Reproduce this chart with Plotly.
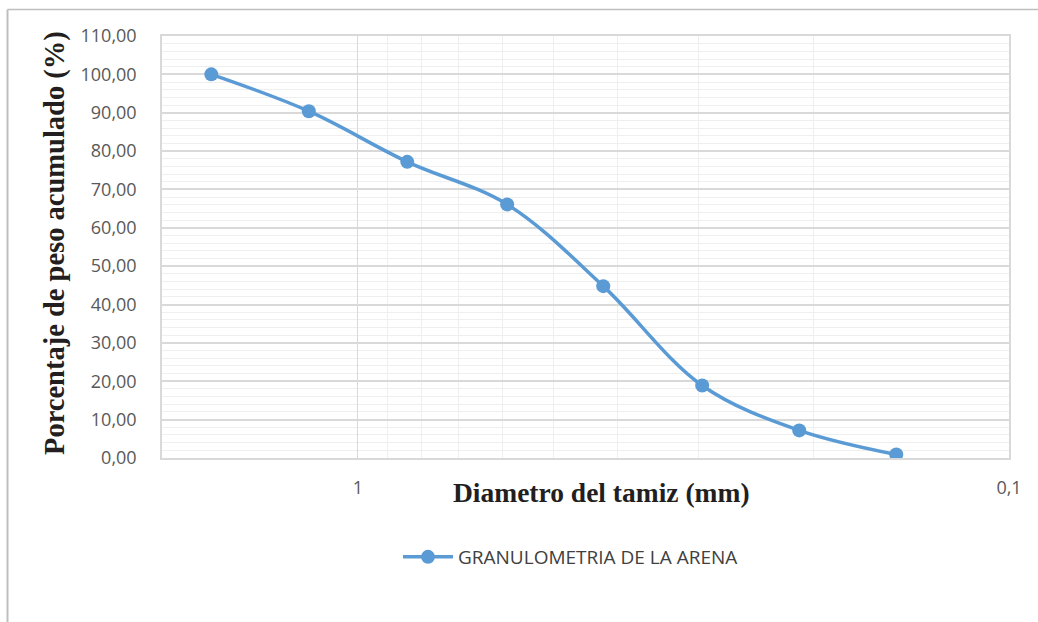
import plotly.graph_objects as go

# Data
diametro_mm = [1.68, 1.19, 0.84, 0.59, 0.42, 0.296, 0.21, 0.149]
porcentaje_acumulado = [100.0, 90.4, 77.2, 66.1, 44.8, 18.9, 7.2, 0.9]
serie_nombre = "GRANULOMETRIA DE LA ARENA"

x_tick_vals = [1, 0.1]
x_tick_text = ["1", "0,1"]
y_tick_vals = [0, 10, 20, 30, 40, 50, 60, 70, 80, 90, 100, 110]

W, H = 1038, 622
L, R, T, B = 162, 29, 36, 164
pw, ph = W - L - R, H - T - B

def px_x(p):
    return (p - L) / pw

def px_y(p):
    return (H - B - p) / ph

LINE_COLOR = "#5B9BD5"

fig = go.Figure()
fig.add_trace(go.Scatter(
    x=diametro_mm, y=porcentaje_acumulado, name=serie_nombre,
    mode="lines+markers",
    line=dict(color=LINE_COLOR, width=3.5, shape="spline", smoothing=1),
    marker=dict(color=LINE_COLOR, size=14),
))

fig.update_layout(
    width=W, height=H,
    margin=dict(l=L, r=R, t=T, b=B),
    paper_bgcolor="white", plot_bgcolor="white",
    separators=",.",
    showlegend=True,
    legend=dict(
        orientation="h", x=px_x(398), xanchor="left",
        y=px_y(557), yanchor="middle",
        itemwidth=50,
        font=dict(family="Open Sans", size=19, color="#404040"),
        bgcolor="rgba(0,0,0,0)",
    ),
    xaxis=dict(
        type="log", range=[0.30103, -1],
        tickvals=x_tick_vals, ticktext=x_tick_text,
        showgrid=True, gridcolor="#D9D9D9", gridwidth=1,
        minor=dict(dtick="D1", showgrid=True, gridcolor="#EFEFEF", gridwidth=1, ticks=""),
        showline=True, linecolor="#D9D9D9", linewidth=1.5, mirror=True,
        ticks="", zeroline=False,
        tickfont=dict(family="Open Sans", size=18, color="#595959"),
        ticklabelstandoff=13,
    ),
    yaxis=dict(
        range=[0, 110], tickvals=y_tick_vals, tickformat=".2f",
        showgrid=True, gridcolor="#D9D9D9", gridwidth=1.5,
        minor=dict(dtick=2, showgrid=True, gridcolor="#EFEFEF", gridwidth=1, ticks=""),
        showline=True, linecolor="#D9D9D9", linewidth=1.5, mirror=True,
        ticks="", zeroline=False,
        tickfont=dict(family="Open Sans", size=18, color="#595959"),
        ticklabelstandoff=20,
    ),
    annotations=[
        dict(text="<b>Porcentaje de peso acumulado (%)</b>", xref="paper", yref="paper",
             x=px_x(55), y=px_y(243), xanchor="center", yanchor="middle",
             textangle=-90, showarrow=False,
             font=dict(family="Liberation Serif", size=28.5, color="#231F20")),
        dict(text="<b>Diametro del tamiz (mm)</b>", xref="paper", yref="paper",
             x=px_x(601), y=px_y(493), xanchor="center", yanchor="middle",
             showarrow=False,
             font=dict(family="Liberation Serif", size=27.5, color="#231F20")),
    ],
    shapes=[
        dict(type="line", xref="paper", yref="paper",
             x0=px_x(7.5), x1=px_x(1040), y0=px_y(9.5), y1=px_y(9.5),
             line=dict(color="#BFBFBF", width=1.5)),
        dict(type="line", xref="paper", yref="paper",
             x0=px_x(7.5), x1=px_x(7.5), y0=px_y(9.5), y1=px_y(624),
             line=dict(color="#BFBFBF", width=2)),
    ],
)

fig.write_html("out.html")
